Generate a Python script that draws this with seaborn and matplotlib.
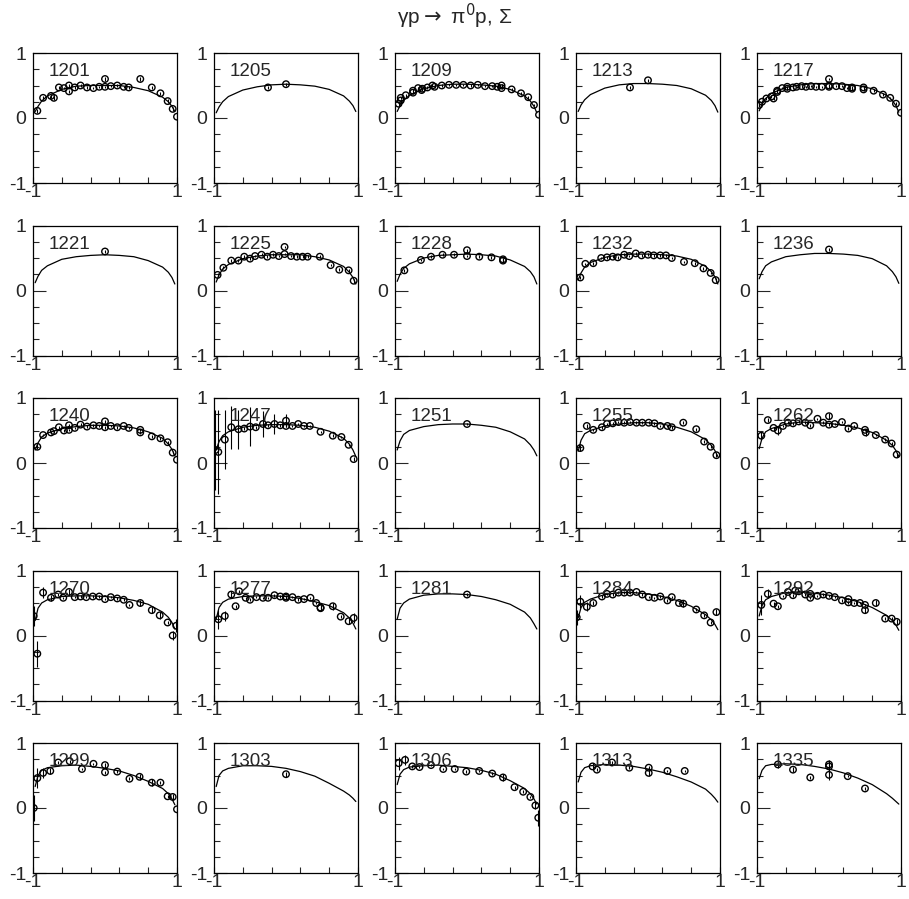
import matplotlib
matplotlib.use('Agg')
import matplotlib.pyplot as plt
import pandas as pd
import seaborn as sns

# Beam asymmetry Sigma for gamma p -> pi0 p, one panel per energy (MeV)
# model curve sampled at CURVE_X
CURVE_X = [-0.97, -0.93, -0.88, -0.8, -0.6, -0.4, -0.2, 0.0, 0.2, 0.4, 0.6, 0.8, 0.88, 0.93, 0.97]

C1201 = [0.10, 0.18, 0.26, 0.34, 0.44, 0.49, 0.50, 0.50, 0.50, 0.47, 0.42, 0.32, 0.25, 0.18, 0.10]
C1205 = [0.08, 0.17, 0.25, 0.33, 0.43, 0.48, 0.51, 0.52, 0.51, 0.49, 0.44, 0.34, 0.26, 0.19, 0.10]
C1209 = [0.10, 0.19, 0.27, 0.35, 0.45, 0.50, 0.52, 0.52, 0.51, 0.49, 0.44, 0.34, 0.26, 0.18, 0.08]
C1213 = [0.10, 0.20, 0.28, 0.36, 0.46, 0.51, 0.53, 0.53, 0.52, 0.50, 0.45, 0.35, 0.27, 0.19, 0.09]
C1217 = [0.11, 0.21, 0.30, 0.38, 0.47, 0.51, 0.53, 0.53, 0.52, 0.50, 0.45, 0.35, 0.27, 0.19, 0.09]
C1221 = [0.12, 0.22, 0.31, 0.38, 0.48, 0.52, 0.54, 0.55, 0.54, 0.52, 0.46, 0.36, 0.28, 0.20, 0.10]
C1225 = [0.13, 0.24, 0.33, 0.40, 0.49, 0.53, 0.55, 0.55, 0.55, 0.52, 0.47, 0.37, 0.28, 0.20, 0.10]
C1228 = [0.14, 0.25, 0.34, 0.41, 0.50, 0.54, 0.55, 0.56, 0.55, 0.53, 0.47, 0.37, 0.29, 0.21, 0.10]
C1232 = [0.16, 0.27, 0.36, 0.43, 0.51, 0.55, 0.56, 0.56, 0.55, 0.53, 0.48, 0.37, 0.29, 0.21, 0.10]
C1236 = [0.18, 0.29, 0.38, 0.44, 0.52, 0.55, 0.57, 0.57, 0.56, 0.54, 0.49, 0.38, 0.29, 0.21, 0.11]
C1240 = [0.20, 0.31, 0.40, 0.46, 0.53, 0.56, 0.58, 0.58, 0.57, 0.54, 0.48, 0.38, 0.29, 0.21, 0.11]
C1247 = [0.20, 0.33, 0.42, 0.48, 0.55, 0.58, 0.59, 0.59, 0.58, 0.55, 0.49, 0.38, 0.29, 0.20, 0.10]
C1251 = [0.20, 0.34, 0.44, 0.50, 0.56, 0.59, 0.60, 0.60, 0.58, 0.55, 0.48, 0.37, 0.28, 0.20, 0.11]
C1255 = [0.18, 0.35, 0.45, 0.50, 0.57, 0.60, 0.62, 0.62, 0.60, 0.55, 0.48, 0.36, 0.27, 0.19, 0.10]
C1262 = [0.22, 0.38, 0.48, 0.53, 0.60, 0.63, 0.62, 0.61, 0.58, 0.54, 0.47, 0.35, 0.27, 0.19, 0.10]
C1270 = [0.23, 0.42, 0.50, 0.55, 0.60, 0.61, 0.61, 0.60, 0.58, 0.54, 0.48, 0.36, 0.28, 0.20, 0.10]
C1277 = [0.25, 0.43, 0.51, 0.56, 0.60, 0.61, 0.61, 0.60, 0.57, 0.52, 0.46, 0.35, 0.27, 0.19, 0.10]
C1281 = [0.25, 0.42, 0.50, 0.56, 0.62, 0.64, 0.64, 0.63, 0.60, 0.55, 0.48, 0.36, 0.27, 0.18, 0.10]
C1284 = [0.27, 0.43, 0.51, 0.56, 0.63, 0.66, 0.66, 0.64, 0.60, 0.54, 0.45, 0.32, 0.24, 0.17, 0.09]
C1292 = [0.30, 0.46, 0.55, 0.60, 0.66, 0.67, 0.65, 0.62, 0.58, 0.52, 0.43, 0.31, 0.23, 0.16, 0.08]
C1299 = [0.33, 0.50, 0.58, 0.62, 0.65, 0.66, 0.64, 0.61, 0.57, 0.50, 0.41, 0.30, 0.22, 0.14, 0.05]
C1303 = [0.33, 0.50, 0.57, 0.61, 0.65, 0.65, 0.64, 0.61, 0.56, 0.49, 0.38, 0.26, 0.20, 0.15, 0.10]
C1306 = [0.36, 0.52, 0.59, 0.63, 0.65, 0.66, 0.64, 0.62, 0.58, 0.52, 0.42, 0.30, 0.22, 0.14, 0.06]
C1313 = [0.40, 0.55, 0.62, 0.65, 0.67, 0.66, 0.64, 0.60, 0.55, 0.48, 0.40, 0.29, 0.21, 0.15, 0.09]
C1335 = [0.45, 0.58, 0.65, 0.67, 0.68, 0.67, 0.64, 0.60, 0.54, 0.46, 0.36, 0.22, 0.15, 0.10, 0.06]

# measured points: (cos theta, Sigma, error)
P1201 = [(-0.94, 0.11, 0.03), (-0.86, 0.31, 0.03), (-0.75, 0.34, 0.03), (-0.71, 0.31, 0.03),
         (-0.64, 0.47, 0.02), (-0.57, 0.46, 0.02), (-0.50, 0.50, 0.02), (-0.50, 0.41, 0.02),
         (-0.42, 0.47, 0.02), (-0.34, 0.50, 0.02), (-0.25, 0.47, 0.02), (-0.16, 0.46, 0.02),
         (-0.08, 0.48, 0.02), (0.00, 0.60, 0.03), (0.00, 0.48, 0.02), (0.08, 0.49, 0.02),
         (0.17, 0.50, 0.02), (0.26, 0.48, 0.02), (0.33, 0.47, 0.02), (0.49, 0.60, 0.03),
         (0.65, 0.47, 0.02), (0.77, 0.38, 0.02), (0.87, 0.26, 0.03), (0.94, 0.14, 0.03),
         (1.00, 0.02, 0.03)]
P1205 = [(-0.25, 0.47, 0.02), (0.00, 0.52, 0.02)]
P1209 = [(-0.95, 0.22, 0.03), (-0.92, 0.27, 0.02), (-0.92, 0.31, 0.02), (-0.85, 0.35, 0.02),
         (-0.75, 0.42, 0.02), (-0.75, 0.39, 0.02), (-0.68, 0.46, 0.02), (-0.63, 0.43, 0.02),
         (-0.62, 0.45, 0.02), (-0.55, 0.47, 0.02), (-0.48, 0.50, 0.02), (-0.45, 0.48, 0.02),
         (-0.35, 0.50, 0.02), (-0.25, 0.51, 0.02), (-0.15, 0.51, 0.02), (-0.05, 0.51, 0.02),
         (0.05, 0.50, 0.02), (0.15, 0.51, 0.02), (0.25, 0.49, 0.02), (0.35, 0.49, 0.02),
         (0.42, 0.48, 0.02), (0.48, 0.50, 0.02), (0.48, 0.46, 0.02), (0.62, 0.44, 0.02),
         (0.75, 0.38, 0.02), (0.85, 0.32, 0.02), (0.93, 0.20, 0.02), (1.00, 0.05, 0.03)]
P1213 = [(-0.25, 0.47, 0.02), (0.00, 0.58, 0.02)]
P1217 = [(-0.97, 0.20, 0.03), (-0.93, 0.25, 0.02), (-0.87, 0.30, 0.02), (-0.80, 0.33, 0.02),
         (-0.77, 0.30, 0.02), (-0.72, 0.40, 0.02), (-0.72, 0.42, 0.02), (-0.65, 0.46, 0.02),
         (-0.58, 0.48, 0.02), (-0.58, 0.45, 0.02), (-0.50, 0.47, 0.02), (-0.45, 0.48, 0.02),
         (-0.38, 0.49, 0.02), (-0.32, 0.48, 0.02), (-0.25, 0.49, 0.02), (-0.18, 0.48, 0.02),
         (-0.10, 0.48, 0.02), (0.00, 0.50, 0.02), (0.00, 0.48, 0.02), (0.00, 0.60, 0.02),
         (0.10, 0.49, 0.02), (0.18, 0.49, 0.02), (0.25, 0.46, 0.02), (0.32, 0.47, 0.02),
         (0.32, 0.45, 0.02), (0.48, 0.47, 0.02), (0.48, 0.44, 0.02), (0.62, 0.42, 0.02),
         (0.75, 0.36, 0.02), (0.85, 0.31, 0.02), (0.93, 0.22, 0.02), (1.00, 0.08, 0.03)]
P1221 = [(0.00, 0.60, 0.02)]
P1225 = [(-0.95, 0.24, 0.03), (-0.87, 0.35, 0.02), (-0.76, 0.46, 0.02), (-0.66, 0.46, 0.02),
         (-0.58, 0.52, 0.02), (-0.50, 0.49, 0.02), (-0.43, 0.53, 0.02), (-0.34, 0.55, 0.02),
         (-0.26, 0.52, 0.02), (-0.18, 0.55, 0.02), (-0.10, 0.53, 0.02), (-0.02, 0.67, 0.02),
         (-0.02, 0.56, 0.02), (0.07, 0.53, 0.02), (0.15, 0.52, 0.02), (0.23, 0.52, 0.02),
         (0.30, 0.52, 0.02), (0.47, 0.52, 0.02), (0.62, 0.39, 0.02), (0.74, 0.32, 0.02),
         (0.87, 0.31, 0.02), (0.94, 0.15, 0.03)]
P1228 = [(-0.87, 0.31, 0.02), (-0.64, 0.47, 0.02), (-0.50, 0.52, 0.02), (-0.34, 0.55, 0.02),
         (-0.18, 0.55, 0.02), (0.00, 0.62, 0.02), (0.00, 0.53, 0.02), (0.17, 0.52, 0.02),
         (0.34, 0.51, 0.02), (0.50, 0.48, 0.02), (0.50, 0.46, 0.02)]
P1232 = [(-0.94, 0.20, 0.03), (-0.87, 0.41, 0.02), (-0.76, 0.42, 0.02), (-0.65, 0.50, 0.02),
         (-0.57, 0.51, 0.02), (-0.49, 0.52, 0.02), (-0.42, 0.51, 0.02), (-0.33, 0.55, 0.02),
         (-0.26, 0.53, 0.02), (-0.17, 0.57, 0.02), (-0.09, 0.54, 0.02), (0.00, 0.55, 0.02),
         (0.08, 0.54, 0.02), (0.17, 0.54, 0.02), (0.25, 0.54, 0.02), (0.33, 0.50, 0.02),
         (0.50, 0.44, 0.02), (0.65, 0.42, 0.02), (0.77, 0.34, 0.02), (0.87, 0.27, 0.02),
         (0.94, 0.16, 0.03)]
P1236 = [(0.00, 0.63, 0.02)]
P1240 = [(-0.94, 0.25, 0.04), (-0.86, 0.43, 0.02), (-0.75, 0.47, 0.02), (-0.71, 0.49, 0.02),
         (-0.64, 0.55, 0.02), (-0.57, 0.50, 0.02), (-0.50, 0.58, 0.02), (-0.50, 0.51, 0.02),
         (-0.42, 0.54, 0.02), (-0.34, 0.59, 0.02), (-0.25, 0.56, 0.02), (-0.16, 0.58, 0.02),
         (-0.08, 0.57, 0.02), (0.00, 0.64, 0.02), (0.00, 0.55, 0.02), (0.08, 0.57, 0.02),
         (0.17, 0.55, 0.02), (0.26, 0.57, 0.02), (0.33, 0.54, 0.02), (0.49, 0.51, 0.02),
         (0.49, 0.47, 0.02), (0.65, 0.41, 0.02), (0.77, 0.38, 0.02), (0.87, 0.32, 0.02),
         (0.94, 0.16, 0.02), (1.00, 0.05, 0.03)]
P1247 = [(-0.98, 0.20, 0.62), (-0.94, 0.17, 0.65), (-0.85, 0.36, 0.45), (-0.76, 0.55, 0.33),
         (-0.66, 0.52, 0.30), (-0.58, 0.53, 0.02), (-0.50, 0.56, 0.30), (-0.42, 0.55, 0.02),
         (-0.32, 0.60, 0.20), (-0.25, 0.58, 0.02), (-0.16, 0.60, 0.15), (-0.08, 0.58, 0.02),
         (0.00, 0.65, 0.10), (0.00, 0.57, 0.02), (0.09, 0.57, 0.02), (0.17, 0.60, 0.02),
         (0.25, 0.57, 0.02), (0.33, 0.57, 0.02), (0.48, 0.48, 0.02), (0.65, 0.42, 0.02),
         (0.77, 0.40, 0.02), (0.87, 0.28, 0.02), (0.94, 0.06, 0.03)]
P1251 = [(0.00, 0.60, 0.02)]
P1255 = [(-0.94, 0.23, 0.05), (-0.85, 0.57, 0.03), (-0.76, 0.51, 0.02), (-0.64, 0.55, 0.02),
         (-0.57, 0.60, 0.02), (-0.49, 0.61, 0.02), (-0.41, 0.63, 0.02), (-0.33, 0.62, 0.02),
         (-0.25, 0.63, 0.02), (-0.16, 0.62, 0.02), (-0.08, 0.62, 0.02), (0.01, 0.62, 0.02),
         (0.09, 0.61, 0.02), (0.17, 0.57, 0.02), (0.27, 0.57, 0.02), (0.33, 0.55, 0.02),
         (0.49, 0.62, 0.02), (0.67, 0.52, 0.02), (0.78, 0.33, 0.02), (0.87, 0.25, 0.02),
         (0.95, 0.12, 0.03)]
P1262 = [(-0.94, 0.42, 0.06), (-0.85, 0.66, 0.03), (-0.77, 0.54, 0.02), (-0.71, 0.50, 0.07),
         (-0.64, 0.57, 0.02), (-0.57, 0.62, 0.02), (-0.50, 0.61, 0.02), (-0.42, 0.64, 0.02),
         (-0.33, 0.62, 0.02), (-0.26, 0.58, 0.02), (-0.16, 0.68, 0.02), (-0.08, 0.62, 0.02),
         (0.00, 0.72, 0.05), (0.00, 0.59, 0.02), (0.08, 0.60, 0.02), (0.18, 0.63, 0.02),
         (0.27, 0.53, 0.02), (0.35, 0.57, 0.02), (0.50, 0.51, 0.02), (0.51, 0.47, 0.05),
         (0.65, 0.43, 0.02), (0.78, 0.36, 0.02), (0.87, 0.30, 0.02), (0.94, 0.13, 0.03)]
P1270 = [(-0.99, 0.30, 0.16), (-0.94, -0.28, 0.20), (-0.86, 0.66, 0.08), (-0.75, 0.58, 0.05),
         (-0.65, 0.63, 0.02), (-0.58, 0.58, 0.02), (-0.50, 0.67, 0.05), (-0.42, 0.59, 0.02),
         (-0.34, 0.60, 0.02), (-0.26, 0.59, 0.02), (-0.17, 0.60, 0.02), (-0.08, 0.60, 0.02),
         (0.00, 0.56, 0.02), (0.08, 0.59, 0.02), (0.17, 0.57, 0.02), (0.26, 0.55, 0.02),
         (0.34, 0.47, 0.02), (0.49, 0.50, 0.05), (0.65, 0.39, 0.05), (0.76, 0.31, 0.05),
         (0.87, 0.20, 0.03), (0.94, 0.00, 0.07), (0.99, 0.15, 0.10)]
P1277 = [(-0.94, 0.25, 0.15), (-0.85, 0.30, 0.08), (-0.76, 0.63, 0.05), (-0.70, 0.45, 0.02),
         (-0.65, 0.68, 0.02), (-0.56, 0.58, 0.02), (-0.50, 0.55, 0.02), (-0.41, 0.59, 0.02),
         (-0.32, 0.58, 0.02), (-0.25, 0.58, 0.02), (-0.16, 0.62, 0.02), (-0.08, 0.60, 0.02),
         (0.00, 0.60, 0.02), (0.00, 0.58, 0.02), (0.09, 0.59, 0.02), (0.17, 0.55, 0.02),
         (0.25, 0.56, 0.02), (0.34, 0.58, 0.02), (0.42, 0.50, 0.02), (0.48, 0.43, 0.02),
         (0.48, 0.42, 0.05), (0.65, 0.45, 0.05), (0.76, 0.29, 0.02), (0.87, 0.22, 0.05),
         (0.94, 0.27, 0.07)]
P1281 = [(0.00, 0.63, 0.02)]
P1284 = [(-0.99, 0.28, 0.12), (-0.94, 0.52, 0.10), (-0.85, 0.44, 0.07), (-0.76, 0.50, 0.03),
         (-0.64, 0.60, 0.02), (-0.57, 0.64, 0.02), (-0.49, 0.63, 0.02), (-0.41, 0.66, 0.02),
         (-0.33, 0.66, 0.02), (-0.25, 0.66, 0.02), (-0.16, 0.67, 0.02), (-0.08, 0.63, 0.02),
         (0.01, 0.59, 0.02), (0.09, 0.58, 0.02), (0.17, 0.60, 0.02), (0.27, 0.54, 0.02),
         (0.33, 0.59, 0.02), (0.43, 0.50, 0.02), (0.49, 0.49, 0.05), (0.67, 0.40, 0.02),
         (0.78, 0.31, 0.02), (0.87, 0.20, 0.02), (0.95, 0.36, 0.05)]
P1292 = [(-0.94, 0.47, 0.15), (-0.85, 0.64, 0.07), (-0.77, 0.49, 0.02), (-0.71, 0.45, 0.02),
         (-0.64, 0.61, 0.02), (-0.57, 0.67, 0.02), (-0.50, 0.62, 0.02), (-0.47, 0.69, 0.02),
         (-0.42, 0.68, 0.02), (-0.33, 0.63, 0.02), (-0.26, 0.58, 0.02), (-0.26, 0.64, 0.02),
         (-0.16, 0.61, 0.02), (-0.08, 0.63, 0.02), (0.00, 0.61, 0.02), (0.08, 0.59, 0.02),
         (0.18, 0.54, 0.02), (0.27, 0.56, 0.02), (0.27, 0.51, 0.02), (0.35, 0.50, 0.02),
         (0.43, 0.50, 0.02), (0.50, 0.47, 0.02), (0.50, 0.39, 0.05), (0.65, 0.50, 0.05),
         (0.78, 0.26, 0.02), (0.87, 0.26, 0.02), (0.94, 0.21, 0.05)]
P1299 = [(-0.99, 0.00, 0.20), (-0.94, 0.46, 0.15), (-0.86, 0.54, 0.08), (-0.76, 0.57, 0.05),
         (-0.65, 0.70, 0.02), (-0.49, 0.72, 0.02), (-0.32, 0.60, 0.02), (-0.16, 0.68, 0.02),
         (0.00, 0.66, 0.04), (0.00, 0.55, 0.02), (0.17, 0.56, 0.02), (0.34, 0.45, 0.02),
         (0.48, 0.48, 0.05), (0.65, 0.39, 0.05), (0.77, 0.39, 0.02), (0.87, 0.18, 0.02),
         (0.94, 0.17, 0.05), (1.00, -0.02, 0.10)]
P1303 = [(0.00, 0.52, 0.04)]
P1306 = [(-0.95, 0.69, 0.10), (-0.86, 0.74, 0.08), (-0.76, 0.64, 0.02), (-0.66, 0.63, 0.02),
         (-0.50, 0.66, 0.02), (-0.33, 0.60, 0.02), (-0.17, 0.60, 0.02), (-0.01, 0.56, 0.02),
         (0.17, 0.57, 0.02), (0.35, 0.53, 0.02), (0.50, 0.47, 0.05), (0.66, 0.32, 0.02),
         (0.78, 0.25, 0.02), (0.88, 0.17, 0.02), (0.95, 0.04, 0.05), (0.99, -0.15, 0.12)]
P1313 = [(-0.77, 0.64, 0.05), (-0.71, 0.59, 0.02), (-0.50, 0.70, 0.02), (-0.26, 0.62, 0.02),
         (0.01, 0.62, 0.02), (0.01, 0.54, 0.04), (0.27, 0.57, 0.02), (0.51, 0.57, 0.02)]
P1335 = [(-0.71, 0.67, 0.05), (-0.50, 0.59, 0.04), (-0.26, 0.47, 0.02), (0.00, 0.64, 0.10),
         (0.00, 0.67, 0.02), (0.00, 0.51, 0.08), (0.26, 0.49, 0.02), (0.50, 0.30, 0.02)]

PANELS = [
    (1201, P1201, C1201), (1205, P1205, C1205), (1209, P1209, C1209), (1213, P1213, C1213), (1217, P1217, C1217),
    (1221, P1221, C1221), (1225, P1225, C1225), (1228, P1228, C1228), (1232, P1232, C1232), (1236, P1236, C1236),
    (1240, P1240, C1240), (1247, P1247, C1247), (1251, P1251, C1251), (1255, P1255, C1255), (1262, P1262, C1262),
    (1270, P1270, C1270), (1277, P1277, C1277), (1281, P1281, C1281), (1284, P1284, C1284), (1292, P1292, C1292),
    (1299, P1299, C1299), (1303, P1303, C1303), (1306, P1306, C1306), (1313, P1313, C1313), (1335, P1335, C1335),
]

sns.set_style('ticks')
plt.rcParams['font.family'] = ['Liberation Sans', 'DejaVu Sans']
plt.rcParams['mathtext.fontset'] = 'dejavusans'

W, H = 909, 899
fig = plt.figure(figsize=(W / 100, H / 100), dpi=100)

lefts = [33, 214, 395, 576, 757]
tops = [53, 225.5, 398, 570.5, 743]
pw, ph = 144, 130

for i, (energy, pts, curve) in enumerate(PANELS):
    r, c = divmod(i, 5)
    ax = fig.add_axes([lefts[c] / W, (H - tops[r] - ph) / H, pw / W, ph / H])

    df = pd.DataFrame(pts, columns=['x', 'y', 'err'])
    cdf = pd.DataFrame({'x': CURVE_X, 'y': curve})

    sns.lineplot(data=cdf, x='x', y='y', ax=ax, color='black', lw=0.9,
                 sort=False, estimator=None)
    ax.errorbar(df['x'], df['y'], yerr=df['err'], fmt='none', ecolor='black',
                elinewidth=0.8, capsize=0, zorder=3)
    sns.scatterplot(data=df, x='x', y='y', ax=ax, marker='o', s=22,
                    facecolor='none', edgecolor='black', linewidth=1.0, zorder=4)

    ax.set_xlim(-1, 1)
    ax.set_ylim(-1, 1)
    ax.set_xlabel('')
    ax.set_ylabel('')

    ax.set_xticks([-1, -0.6, -0.2, 0.2, 0.6, 1])
    ax.set_xticklabels(['-1', '', '', '', '', '1'])
    ax.set_yticks([-1, 0, 1])
    ax.set_yticklabels(['-1', '0', '1'])
    ax.set_yticks([-0.75, -0.5, -0.25, 0.25, 0.5, 0.75], minor=True)
    ax.tick_params(axis='x', which='major', direction='in', length=4.5, width=0.8,
                   bottom=True, top=False, labelsize=14, pad=1)
    ax.tick_params(axis='y', which='major', direction='in', length=9.5, width=0.8,
                   left=True, right=False, labelsize=14, pad=5)
    ax.tick_params(axis='y', which='minor', direction='in', length=4.5, width=0.8,
                   left=True, right=False)
    for sp in ax.spines.values():
        sp.set_visible(True)
        sp.set_linewidth(0.9)
        sp.set_color('black')

    ax.text(-0.78, 0.71, str(energy), fontsize=13.5, ha='left', va='center', zorder=5)

# title
fig.text(0.5, 1 - 16 / H, r'γp$\rightarrow$ π$^{0}$p, Σ', ha='center', va='center', fontsize=15)

plt.savefig('out.png', dpi=100)
